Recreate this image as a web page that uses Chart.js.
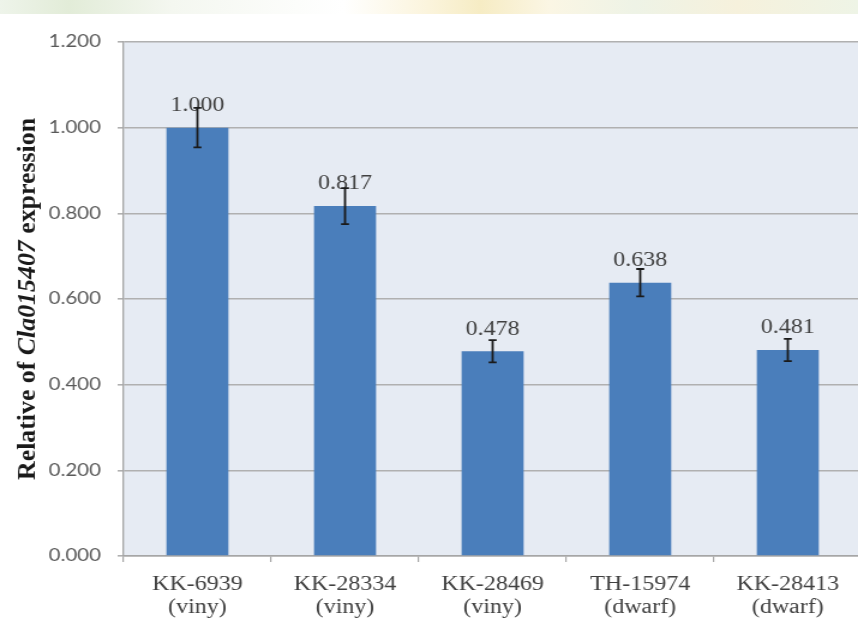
<!DOCTYPE html>
<html>
<head>
<meta charset="utf-8">
<script src="https://cdn.jsdelivr.net/npm/chart.js@4"></script>
<style>
html,body{margin:0;padding:0;background:#fff;overflow:hidden;width:858px;height:626px;}
#band{position:absolute;left:0;top:0;width:858px;height:14px;
  background:linear-gradient(90deg,#eef4ea 0,#e2ecd8 8%,#f4f7f0 20%,#ffffff 40%,#fbf4dc 50%,#f6ecc4 56%,#fbf6e4 64%,#eef3e6 74%,#f6f1dc 86%,#eef4e6 100%);}
#wrap{position:absolute;left:0;top:0;width:718px;height:626px;transform:scaleX(1.2);transform-origin:0 0;}
</style>
</head>
<body>
<div id="band"></div>
<div id="wrap"><canvas id="c"></canvas></div>
<script>
const categories = [["KK-6939","(viny)"],["KK-28334","(viny)"],["KK-28469","(viny)"],["TH-15974","(dwarf)"],["KK-28413","(dwarf)"]];
const values = [1.000, 0.817, 0.478, 0.638, 0.481];
const errors = [0.046, 0.042, 0.026, 0.032, 0.026];
const yTicks = [0, 0.2, 0.4, 0.6, 0.8, 1.0, 1.2];
const yTitleParts = [["Relative of ", false], ["Cla015407", true], [" expression", false]];

const bgPlugin = {
  id: 'bg',
  beforeDraw(chart) {
    const {ctx, chartArea: a} = chart;
    ctx.save();
    ctx.fillStyle = '#e6ebf3';
    ctx.fillRect(a.left, a.top, a.right - a.left, a.bottom - a.top);
    ctx.restore();
  }
};

const annPlugin = {
  id: 'ann',
  afterDatasetsDraw(chart) {
    const {ctx} = chart;
    const meta = chart.getDatasetMeta(0);
    const y = chart.scales.y;
    ctx.save();
    ctx.font = '20px "Liberation Serif", serif';
    ctx.fillStyle = '#404040';
    ctx.textAlign = 'center';
    ctx.textBaseline = 'middle';
    meta.data.forEach((bar, i) => {
      ctx.fillText(values[i].toFixed(3), bar.x, y.getPixelForValue(values[i]) - 22);
    });
    ctx.strokeStyle = '#1a1a1a';
    ctx.lineWidth = 1.8;
    meta.data.forEach((bar, i) => {
      const top = y.getPixelForValue(values[i] + errors[i]);
      const bot = y.getPixelForValue(values[i] - errors[i]);
      ctx.beginPath();
      ctx.moveTo(bar.x, top); ctx.lineTo(bar.x, bot);
      ctx.moveTo(bar.x - 3.3, top); ctx.lineTo(bar.x + 3.3, top);
      ctx.moveTo(bar.x - 3.3, bot); ctx.lineTo(bar.x + 3.3, bot);
      ctx.stroke();
    });
    ctx.restore();
  },
  afterDraw(chart) {
    const {ctx, chartArea: a} = chart;
    ctx.save();
    ctx.translate(23.5, (a.top + a.bottom) / 2);
    ctx.rotate(-Math.PI / 2);
    ctx.fillStyle = '#1a1a1a';
    ctx.textBaseline = 'middle';
    const fonts = yTitleParts.map(p => (p[1] ? 'italic bold ' : 'bold ') + '20px "Liberation Serif", serif');
    let total = 0;
    yTitleParts.forEach((p, i) => { ctx.font = fonts[i]; total += ctx.measureText(p[0]).width; });
    const target = 362;
    ctx.scale(target / total, 1);
    let x = -total / 2;
    ctx.textAlign = 'left';
    yTitleParts.forEach((p, i) => {
      ctx.font = fonts[i];
      ctx.fillText(p[0], x, 0);
      x += ctx.measureText(p[0]).width;
    });
    ctx.restore();
  }
};

new Chart(document.getElementById('c'), {
  type: 'bar',
  data: {
    labels: categories,
    datasets: [{
      data: values,
      backgroundColor: '#4a7ebb',
      borderWidth: 0,
      barPercentage: 0.42,
      categoryPercentage: 1.0
    }]
  },
  options: {
    responsive: true,
    maintainAspectRatio: false,
    animation: false,
    layout: { padding: { left: 0, top: 42, right: 0, bottom: 0 } },
    plugins: { legend: { display: false }, tooltip: { enabled: false } },
    scales: {
      x: {
        offset: true,
        afterFit(scale) { scale.height = 70; },
        grid: { display: true, drawOnChartArea: false, drawTicks: true, tickLength: 6, color: '#a6a6a6', lineWidth: 1.2, offset: true },
        border: { display: true, color: '#a6a6a6', width: 1.5 },
        ticks: {
          font: { family: '"Liberation Serif", serif', size: 20, lineHeight: 1.15 },
          color: '#404040',
          padding: 11,
          maxRotation: 0,
          autoSkip: false
        }
      },
      y: {
        min: 0, max: 1.2,
        afterFit(scale) { scale.width = 103; },
        afterBuildTicks(scale) { scale.ticks = yTicks.map(v => ({ value: v })); },
        grid: { color: '#b0b0b0', lineWidth: 1.6, tickLength: 5 },
        border: { display: true, color: '#a6a6a6', width: 1.3 },
        ticks: {
          font: { family: 'Lato, "Open Sans", sans-serif', size: 17 },
          color: '#595959',
          padding: 14,
          callback: v => Number(v).toFixed(3)
        }
      }
    }
  },
  plugins: [bgPlugin, annPlugin]
});
</script>
</body>
</html>
